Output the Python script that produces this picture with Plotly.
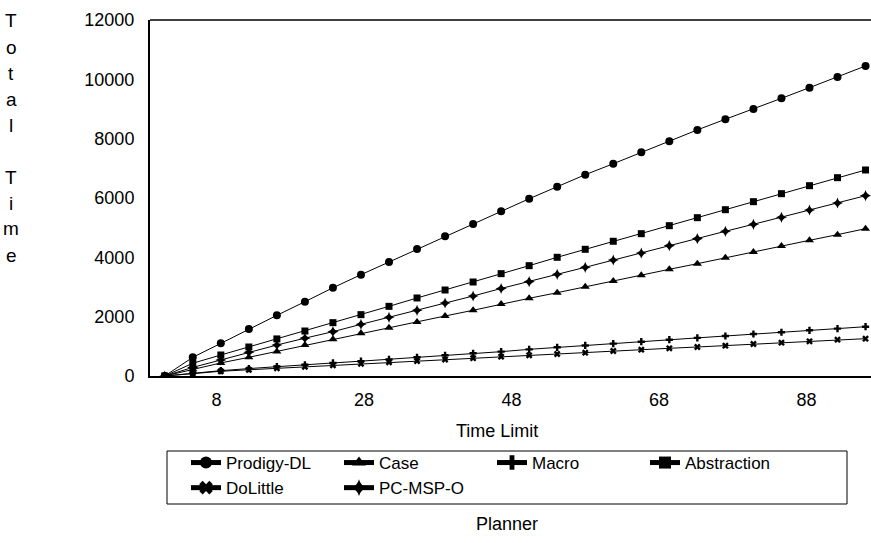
import plotly.graph_objects as go

# Time limit values (x positions of the 26 samples)
time_limit = [1.0, 4.8, 8.6, 12.4, 16.2, 20.0, 23.8, 27.6, 31.4, 35.2, 39.0, 42.8, 46.6,
              50.4, 54.2, 58.0, 61.8, 65.6, 69.4, 73.2, 77.0, 80.8, 84.6, 88.4, 92.2, 96.0]

prodigy_dl = [0, 630, 1100, 1585, 2045, 2505, 2975, 3415, 3845, 4280, 4710, 5125, 5555,
              5975, 6380, 6785, 7155, 7540, 7915, 8295, 8655, 9000, 9360, 9720, 10080, 10450]
case = [0, 230, 440, 630, 830, 1045, 1240, 1439, 1628, 1820, 2023, 2215, 2425,
        2619, 2808, 3010, 3203, 3395, 3597, 3786, 3988, 4180, 4382, 4574, 4765, 4966]
macro = [0, 100, 180, 250, 320, 380, 440, 500, 560, 630, 697, 765, 820,
         899, 967, 1030, 1090, 1157, 1224, 1285, 1348, 1416, 1475, 1540, 1598, 1662]
abstraction = [0, 430, 708, 978, 1250, 1517, 1798, 2068, 2348, 2630, 2899, 3169, 3450,
               3719, 4001, 4271, 4541, 4797, 5067, 5337, 5606, 5876, 6146, 6415, 6685, 6944]
dolittle = [0, 90, 160, 210, 260, 310, 360, 410, 460, 505, 555, 600, 651,
            697, 742, 785, 843, 887, 934, 978, 1022, 1079, 1123, 1170, 1224, 1258]
pc_msp_o = [0, 290, 540, 800, 1045, 1275, 1494, 1742, 1978, 2214, 2461, 2697, 2950,
            3179, 3428, 3664, 3910, 4146, 4393, 4628, 4878, 5114, 5350, 5596, 5832, 6078]

series = [
    ("Prodigy-DL", prodigy_dl, "circle", 8),
    ("Case", case, "triangle-up", 8),
    ("Macro", macro, "cross", 6),
    ("Abstraction", abstraction, "square", 7),
    ("DoLittle", dolittle, "x", 6),
    ("PC-MSP-O", pc_msp_o, "star-diamond", 8),
]

x_ticks = [8, 28, 48, 68, 88]
y_ticks = [0, 2000, 4000, 6000, 8000, 10000, 12000]

FONT = "Liberation Sans, Arial, sans-serif"

fig = go.Figure()
for name, vals, sym, size in series:
    fig.add_trace(go.Scatter(
        x=time_limit, y=vals, name=name, mode="lines+markers",
        line=dict(color="black", width=1),
        marker=dict(symbol=sym, size=size, color="black"),
    ))

W, H = 871, 543
L, R, T, B = 150, 0, 20, 167
pw, ph = W - L - R, H - T - B

def px_x(p):
    return (p - L) / pw

def px_y(p):
    return (H - B - p) / ph

fig.update_layout(
    width=W, height=H,
    margin=dict(l=L, r=R, t=T, b=B),
    plot_bgcolor="white", paper_bgcolor="white",
    font=dict(family=FONT, size=18, color="black"),
    showlegend=True,
    legend=dict(
        orientation="h", x=px_x(186), xanchor="left", y=px_y(445), yanchor="top",
        entrywidth=108, entrywidthmode="pixels",
        font=dict(size=17, family=FONT, color="black"),
        itemsizing="constant", borderwidth=0, bgcolor="rgba(0,0,0,0)",
        tracegroupgap=0,
    ),
    xaxis=dict(
        range=[-1.0, 96.74], tickvals=x_ticks, ticktext=[str(v) for v in x_ticks],
        showgrid=False, zeroline=False, showline=True, linecolor="black", linewidth=2,
        ticks="", tickfont=dict(size=18), ticklabelstandoff=6,
    ),
    yaxis=dict(
        range=[0, 12000], tickvals=y_ticks, ticktext=[str(v) for v in y_ticks],
        showgrid=False, zeroline=False, showline=True, linecolor="black", linewidth=2,
        ticks="", tickfont=dict(size=18), ticklabelstandoff=10,
    ),
    shapes=[
        dict(type="line", xref="paper", yref="paper", x0=0, x1=1, y0=1, y1=1,
             line=dict(color="black", width=1.5)),
        dict(type="rect", xref="paper", yref="paper",
             x0=px_x(167), x1=px_x(847), y0=px_y(451), y1=px_y(504),
             line=dict(color="black", width=1)),
    ],
)

annotations = [
    dict(text="Time Limit", xref="paper", yref="paper", x=px_x(497), y=px_y(431),
         showarrow=False, xanchor="center", yanchor="middle", font=dict(size=18)),
    dict(text="Planner", xref="paper", yref="paper", x=px_x(507), y=px_y(524),
         showarrow=False, xanchor="center", yanchor="middle", font=dict(size=18)),
]
y_title = "Total Time"
for k, ch in enumerate(y_title):
    if ch == " ":
        continue
    annotations.append(dict(text=ch, xref="paper", yref="paper", x=px_x(11),
                            y=px_y(21 + 26.0 * k), showarrow=False,
                            xanchor="center", yanchor="middle", font=dict(size=19)))
fig.update_layout(annotations=annotations)

fig.write_html("out.html")
